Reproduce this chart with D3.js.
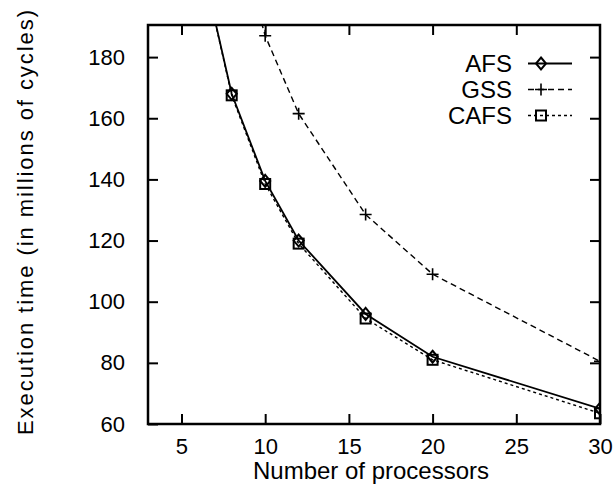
<!DOCTYPE html>
<html>
<head>
<meta charset="utf-8">
<script src="https://cdn.jsdelivr.net/npm/d3@7"></script>
<style>
  body { margin: 0; background: #fff; }
  text { font-family: "Liberation Sans", Arial, sans-serif; fill: #000; }
</style>
</head>
<body>
<div class="chart"></div>
<script>
let width = 614,
    height = 490;

const margin = { top: 25, right: 14, bottom: 66, left: 148 };

// processors on the x axis
const procs = [6, 8, 10, 12, 16, 20, 30];
const gssProcs = [8, 10, 12, 16, 20, 30];

// execution time, millions of cycles
const afsTime = [216, 168, 139.5, 120, 96, 82, 65];
const gssTime = [226, 187, 161.5, 128.5, 109, 80.5];
const cafsTime = [216, 167.5, 138.5, 119, 94.5, 81, 63.5];

const xTicks = [5, 10, 15, 20, 25, 30];
const yTicks = [60, 80, 100, 120, 140, 160, 180];

const series = [
    { name: "AFS", xs: procs, ys: afsTime, dash: null, marker: "diamond" },
    { name: "GSS", xs: gssProcs, ys: gssTime, dash: "6,4", marker: "plus" },
    { name: "CAFS", xs: procs, ys: cafsTime, dash: "3,3", marker: "square" }
];

document.addEventListener('DOMContentLoaded', () => {
    let svg = d3.select(".chart").append("svg")
        .attr("width", width)
        .attr("height", height);

    let w = width - margin.left - margin.right,
        h = height - margin.top - margin.bottom;

    let x = d3.scaleLinear().domain([3, 30]).range([0, w]);
    let y = d3.scaleLinear().domain([60, 190.5]).range([h, 0]);

    let g = svg.append("g").attr("transform", `translate(${margin.left},${margin.top})`);

    g.append("clipPath").attr("id", "clip")
        .append("rect").attr("x", 0).attr("y", 0).attr("width", w).attr("height", h);

    // ticks on all four sides, pointing in
    const tickLen = 10;
    let ax = [
        { a: d3.axisBottom(x).tickValues(xTicks).tickSize(-tickLen).tickPadding(14), t: `translate(0,${h})`, labels: true },
        { a: d3.axisTop(x).tickValues(xTicks.filter(v => v < 30)).tickSize(-tickLen), t: "translate(0,0)", labels: false },
        { a: d3.axisLeft(y).tickValues(yTicks).tickSize(-tickLen).tickPadding(23), t: "translate(0,0)", labels: true },
        { a: d3.axisRight(y).tickValues(yTicks.filter(v => v > 60)).tickSize(-tickLen), t: `translate(${w},0)`, labels: false }
    ];
    ax.forEach(d => {
        let axis = g.append("g").attr("transform", d.t).call(d.a);
        axis.select(".domain").remove();
        axis.selectAll(".tick line").attr("stroke", "#000").attr("stroke-width", 2);
        if (d.labels) {
            axis.selectAll(".tick text").style("font-size", "22px");
        } else {
            axis.selectAll(".tick text").remove();
        }
    });

    g.append("rect")
        .attr("x", 0).attr("y", 0)
        .attr("width", w).attr("height", h)
        .attr("fill", "none")
        .attr("stroke", "#000")
        .attr("stroke-width", 2.5);

    let line = d3.line().x(d => x(d[0])).y(d => y(d[1]));

    function drawMarker(sel, type, cx, cy) {
        if (type === "diamond") {
            sel.append("path")
                .attr("d", `M${cx},${cy - 6}L${cx + 5},${cy}L${cx},${cy + 6}L${cx - 5},${cy}Z`)
                .attr("fill", "none").attr("stroke", "#000").attr("stroke-width", 2);
        } else if (type === "plus") {
            sel.append("path")
                .attr("d", `M${cx - 6},${cy}H${cx + 6}M${cx},${cy - 6}V${cy + 6}`)
                .attr("fill", "none").attr("stroke", "#000").attr("stroke-width", 1.6);
        } else {
            sel.append("rect")
                .attr("x", cx - 5).attr("y", cy - 5).attr("width", 10).attr("height", 10)
                .attr("fill", "none").attr("stroke", "#000").attr("stroke-width", 2);
        }
    }

    let plot = g.append("g").attr("clip-path", "url(#clip)");

    series.forEach(s => {
        let pts = s.xs.map((v, i) => [v, s.ys[i]]);
        plot.append("path")
            .datum(pts)
            .attr("d", line)
            .attr("fill", "none")
            .attr("stroke", "#000")
            .attr("stroke-width", s.dash ? 1.4 : 1.8)
            .attr("stroke-dasharray", s.dash);
        pts.forEach(p => drawMarker(plot, s.marker, x(p[0]), y(p[1])));
    });

    // legend
    series.forEach((s, i) => {
        let ly = 38.5 + i * 26;
        g.append("text")
            .attr("x", 364).attr("y", ly)
            .attr("dy", "0.36em")
            .attr("text-anchor", "end")
            .style("font-size", "24px")
            .text(s.name);
        g.append("line")
            .attr("x1", 380).attr("x2", 424)
            .attr("y1", ly).attr("y2", ly)
            .attr("stroke", "#000")
            .attr("stroke-width", s.dash ? 1.4 : 1.8)
            .attr("stroke-dasharray", s.dash);
        drawMarker(g, s.marker, 393, ly);
    });

    svg.append("text")
        .attr("x", 371)
        .attr("y", 479)
        .attr("text-anchor", "middle")
        .style("font-size", "24px")
        .text("Number of processors");

    svg.append("text")
        .attr("transform", "translate(33,222.5) rotate(-90)")
        .attr("text-anchor", "middle")
        .attr("textLength", 425)
        .attr("lengthAdjust", "spacing")
        .style("font-size", "22px")
        .text("Execution time (in millions of cycles)");
});
</script>
</body>
</html>
